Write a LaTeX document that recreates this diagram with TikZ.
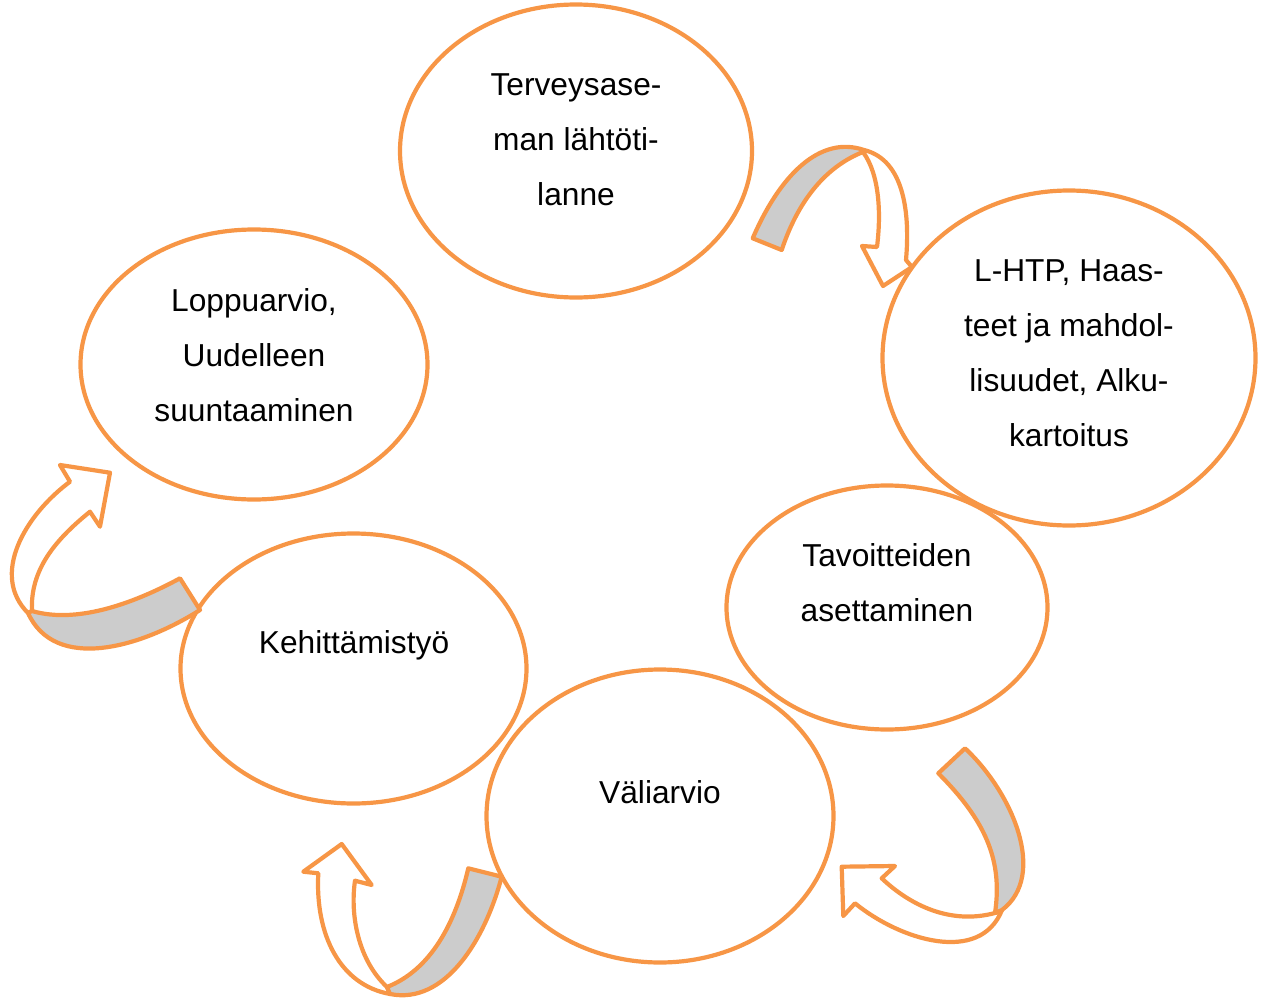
\documentclass[tikz,border=0pt]{standalone}
\usepackage{fontspec}
\setmainfont{Liberation Sans}
\usetikzlibrary{shapes.geometric}
\definecolor{accentorange}{HTML}{F79646}
\definecolor{foldgray}{HTML}{CCCCCC}
\tikzset{
  stage/.style={ellipse, draw=accentorange, line width=4.2pt, fill=white, inner sep=0pt},
  stagetext/.style={align=center, font=\fontsize{31.7}{55}\selectfont, inner sep=0pt},
  arrowface/.style={draw=accentorange, line width=4.2pt, line join=round, fill=white},
  arrowfold/.style={draw=accentorange, line width=4.2pt, line join=round, fill=foldgray},
}
\begin{document}
\begin{tikzpicture}[x=1pt, y=-1pt]
\useasboundingbox (0,0) rectangle (1262,1001);

% stages of the cycle
\node[stage, minimum width=352pt, minimum height=293pt] (e1) at (576,151) {};
\node[stage, minimum width=373pt, minimum height=335pt] (e2) at (1069,358) {};
\node[stage, minimum width=347pt, minimum height=270pt] (e3) at (254,364.5) {};
\node[stage, minimum width=321pt, minimum height=244pt] (e4) at (887,607.5) {};
\node[stage, minimum width=347pt, minimum height=293pt] (e5) at (660,816) {};
\node[stage, minimum width=346pt, minimum height=270pt] (e6) at (353.5,668.5) {};

\node[stagetext] (t1) at (576,140) {Terveysase-\\man lähtöti-\\lanne};
\node[stagetext] (t2) at (1069,353) {L-HTP, Haas-\\teet ja mahdol-\\lisuudet, Alku-\\kartoitus};
\node[stagetext] (t3) at (254,355) {Loppuarvio,\\Uudelleen\\suuntaaminen};
\node[stagetext] (t4) at (887,583) {Tavoitteiden\\asettaminen};
\node[stagetext] (t5) at (660,792) {Väliarvio};
\node[stagetext] (t6) at (354,645) {Kehittämistyö};

% curved arrow: top right
\draw[arrowface] (863,152) .. controls (880,175) and (881,215) .. (877,247)
  -- (862,246) -- (883,286) -- (912,267) -- (906,260)
  .. controls (910,215) and (905,160) .. (864,150) -- cycle;
\draw[arrowfold] (752.7,238.3) .. controls (780,175) and (820,135) .. (864,150)
  -- (863,152) .. controls (830,165) and (800,195) .. (781.7,250) -- cycle;

% curved arrow: bottom right
\draw[arrowface] (995,913) .. controls (950,925) and (910,905) .. (881.7,878.3)
  -- (895,866) -- (841.7,866.7) -- (843.3,916) -- (855,903.3)
  .. controls (900,940) and (980,965) .. (1002,910) -- cycle;
\draw[arrowfold] (938.3,773.3) -- (965,748.3)
  .. controls (1012,792) and (1048,875) .. (1002,910)
  -- (995,913) .. controls (1003,860) and (985,820) .. (938.3,773.3) -- cycle;

% curved arrow: bottom left
\draw[arrowface] (387,987) .. controls (358,960) and (350,915) .. (355,880.7)
  -- (371.7,885) -- (341.7,844) -- (303.3,871.7) -- (318.3,873.3)
  .. controls (315,935) and (340,985) .. (390,994) -- cycle;
\draw[arrowfold] (468.3,868.3) -- (501.7,876.7)
  .. controls (485,940) and (445,1005) .. (390,994)
  -- (387,987) .. controls (430,970) and (455,925) .. (468.3,868.3) -- cycle;

% curved arrow: left
\draw[arrowface] (32,611) .. controls (30,570) and (55,540) .. (90,511.7)
  -- (100,526.7) -- (110,472.7) -- (60,465) -- (70,481.7)
  .. controls (25,515) and (-10,575) .. (28,613) -- cycle;
\draw[arrowfold] (180,578.3) -- (200,610)
  .. controls (140,648) and (55,672) .. (28,613)
  -- (32,611) .. controls (80,625) and (140,600) .. (180,578.3) -- cycle;
\end{tikzpicture}
\end{document}
